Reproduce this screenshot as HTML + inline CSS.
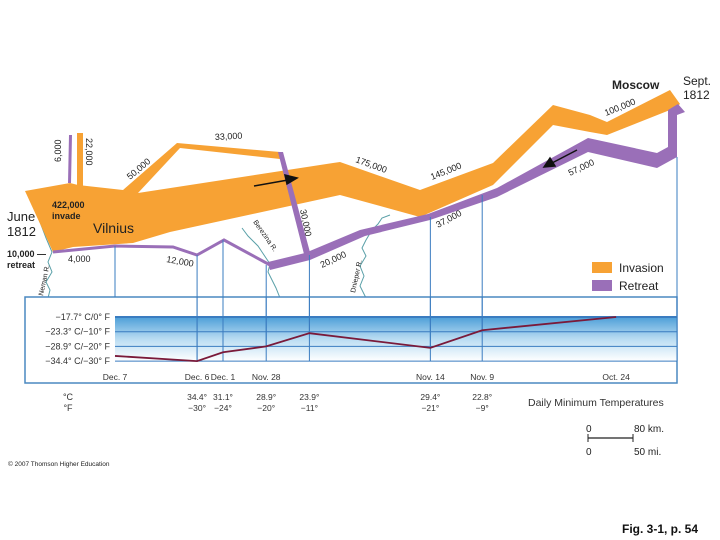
<!DOCTYPE html>
<html><head><meta charset="utf-8"><style>
html,body{margin:0;padding:0;background:#fff;}
svg{display:block;font-family:"Liberation Sans",Arial,sans-serif;}
</style></head><body>
<svg width="720" height="540" viewBox="0 0 720 540">
<defs>
<linearGradient id="tg" x1="0" y1="0" x2="0" y2="1">
<stop offset="0" stop-color="#4d9fd8"/><stop offset="0.5" stop-color="#b9dcf2"/><stop offset="1" stop-color="#ffffff"/>
</linearGradient>
</defs>
<g fill="none" stroke="#5aa0a8" stroke-width="1">
<polyline points="28,192 35,205 40,222 46,238 52,252 48,262 52,272 46,282 50,290 48,298"/>
<polyline points="242,228 248,236 252,240 258,246 262,252 266,258 270,264 268,272 272,280 276,288 280,298"/>
<polyline points="390,215 382,218 378,224 372,230 366,240 362,248 366,256 360,266 364,276 360,286 366,298"/>
</g>
<g fill="#f7a234">
<polygon points="25,191 70,183 78,185 123,190 177,143 280,152 280,159 180,148 138,193 333,163 340,162 420,190 493,163 553,105 590,115 607,122 670,90 680,104 675,108 607,135 590,132 553,125 493,185 420,217 340,195 170,232 133,243 73,247 53,252"/>
<polygon points="77,133 83,133 83,186 77,186"/>
</g>
<g fill="#9a6fb8">
<polygon points="69,135 72,135 71,183 68,183"/>
<polygon points="278,152 283,152 311,256 305,258"/>
<polygon points="678,104 685,112 677,115 677,157 657,168 588,152 497,197 430,220 365,236 310,260 270,270 268,262 305,253 360,230 428,214 497,188 588,138 657,153 668,147 668,110"/>
<polyline fill="none" stroke="#9a6fb8" stroke-width="3" points="270,265 224,240 197,255 173,247 115,246 53,252"/>
</g>
<g stroke="#111" stroke-width="1.5" fill="#111">
<line x1="254" y1="186" x2="288" y2="180"/><polygon points="297,178 285,175 287,184"/>
<line x1="577" y1="150" x2="552" y2="163"/><polygon points="544,167 550,158 555,166"/>
</g>
<g font-size="9" fill="#222">
<text x="215" y="140" transform="rotate(-3 215 140)">33,000</text>
<text x="130" y="180" transform="rotate(-40 130 180)">50,000</text>
<text x="61" y="162" transform="rotate(-90 61 162)">6,000</text>
<text x="86" y="138" transform="rotate(90 86 138)">22,000</text>
<text x="355" y="162" transform="rotate(20 355 162)">175,000</text>
<text x="432" y="180" transform="rotate(-22 432 180)">145,000</text>
<text x="606" y="116" transform="rotate(-22 606 116)">100,000</text>
<text x="570" y="176" transform="rotate(-25 570 176)">57,000</text>
<text x="438" y="228" transform="rotate(-28 438 228)">37,000</text>
<text x="300" y="210" transform="rotate(78 300 210)">30,000</text>
<text x="322" y="268" transform="rotate(-25 322 268)">20,000</text>
<text x="166" y="262" transform="rotate(10 166 262)">12,000</text>
<text x="68" y="262">4,000</text>
<text x="93" y="233" font-size="14">Vilnius</text>
<text x="52" y="208" font-size="9" font-weight="bold">422,000</text>
<text x="52" y="219" font-size="9" font-weight="bold">invade</text>
<text x="7" y="221" font-size="13">June</text>
<text x="7" y="236" font-size="13">1812</text>
<text x="7" y="257" font-size="9" font-weight="bold">10,000 —</text>
<text x="7" y="268" font-size="9" font-weight="bold">retreat</text>
<text x="612" y="89" font-size="12" font-weight="bold">Moscow</text>
<text x="683" y="85" font-size="12">Sept.</text>
<text x="683" y="99" font-size="12">1812</text>
<text x="43" y="296" font-size="7" transform="rotate(-78 43 296)">Neman R.</text>
<text x="253" y="222" font-size="7" transform="rotate(55 253 222)">Berezina R.</text>
<text x="355" y="293" font-size="7" transform="rotate(-78 355 293)">Dnieper R.</text>
</g>
<g>
<rect x="592" y="262" width="20" height="11" fill="#f7a234"/>
<text x="619" y="272" font-size="12" fill="#222">Invasion</text>
<rect x="592" y="280" width="20" height="11" fill="#9a6fb8"/>
<text x="619" y="290" font-size="12" fill="#222">Retreat</text>
</g>
<g id="temp"></g>
<g font-size="10" fill="#222">
<text x="586" y="432">0</text><text x="634" y="432">80 km.</text>
<line x1="588" y1="438" x2="633" y2="438" stroke="#222" stroke-width="1.3"/>
<line x1="588" y1="434" x2="588" y2="442" stroke="#222"/><line x1="633" y1="434" x2="633" y2="442" stroke="#222"/>
<text x="586" y="455">0</text><text x="634" y="455">50 mi.</text>
</g>
<text x="8" y="466" font-size="6.5" fill="#222">© 2007 Thomson Higher Education</text>
<text x="622" y="533" font-size="12" font-weight="bold" fill="#111">Fig. 3-1, p. 54</text>
</svg>
<script>
const dates = ["Dec. 7","Dec. 6","Dec. 1","Nov. 28","","Nov. 14","Nov. 9","Oct. 24"];
const longitudes = [24.0,25.9,26.5,27.5,28.5,31.3,32.5,35.6];
const tempsF = [-26.5,-30,-24,-20,-11,-21,-9,0];
const tempsCLabels = ["","34.4°","31.1°","28.9°","23.9°","29.4°","22.8°",""];
const tempsFLabels = ["","−30°","−24°","−20°","−11°","−21°","−9°",""];
const gridF = [0,-10,-20,-30];
const gridLabels = ["−17.7° C/0° F","−23.3° C/−10° F","−28.9° C/−20° F","−34.4° C/−30° F"];
const ns="http://www.w3.org/2000/svg";
const g=document.getElementById('temp');
const x=lon=>115+(lon-24)*43.2;
const y=f=>317-f*1.47;
function mk(t,a,p){const e=document.createElementNS(ns,t);for(const k in a)e.setAttribute(k,a[k]);(p||g).appendChild(e);return e;}
let e=mk('rect',{x:25,y:297,width:652,height:86,fill:'#fff',stroke:'#4a88c0','stroke-width':1.5});


e=mk('rect',{x:115,y:y(0),width:562,height:y(-30)-y(0),fill:'url(#tg)'});


gridF.forEach((f,i)=>{
 const l=mk('line',{x1:115,x2:677,y1:y(f),y2:y(f),stroke:'#3a7cc0','stroke-width':i==0?2:1});
 
 
 const t=mk('text',{x:110,y:y(f)+3,'font-size':9,'text-anchor':'end',fill:'#333'});
 t.textContent=gridLabels[i];
 
 
});
const mc=mk('line',{x1:677,x2:677,y1:157,y2:y(-30),stroke:'#3a7cc0','stroke-width':1});


longitudes.forEach((lon,i)=>{
 const top=[246,255,240,265,255,217,195,null][i];
 if(top!==null){
 const l=mk('line',{x1:x(lon),x2:x(lon),y1:top,y2:i==0?297:y(tempsF[i]),stroke:'#3a7cc0','stroke-width':1});
 
 
 if(i>0){const l2=mk('line',{x1:x(lon),x2:x(lon),y1:297,y2:y(-30),stroke:'#3a7cc0','stroke-width':1});
 
 }
 }
 const t=mk('text',{x:x(lon),y:380,'font-size':8.5,'text-anchor':'middle',fill:'#333'});
 t.textContent=dates[i];
 
 
 const c=mk('text',{x:x(lon),y:400,'font-size':8.5,'text-anchor':'middle',fill:'#333'});
 c.textContent=tempsCLabels[i];
 
 
 const fl=mk('text',{x:x(lon),y:411,'font-size':8.5,'text-anchor':'middle',fill:'#333'});
 fl.textContent=tempsFLabels[i];
 
 
});
const pl=mk('polyline',{points:longitudes.map((l,i)=>x(l)+','+y(tempsF[i])).join(' '),fill:'none',stroke:'#7a1a3a','stroke-width':1.8});


[["°C",400],["°F",411]].forEach(([s,yy])=>{const t=mk('text',{x:68,y:yy,'font-size':9,'text-anchor':'middle',fill:'#333'});t.textContent=s;

});
const tt=mk('text',{x:528,y:406,'font-size':10.5,fill:'#333'});tt.textContent='Daily Minimum Temperatures';


</script>
</body></html>
